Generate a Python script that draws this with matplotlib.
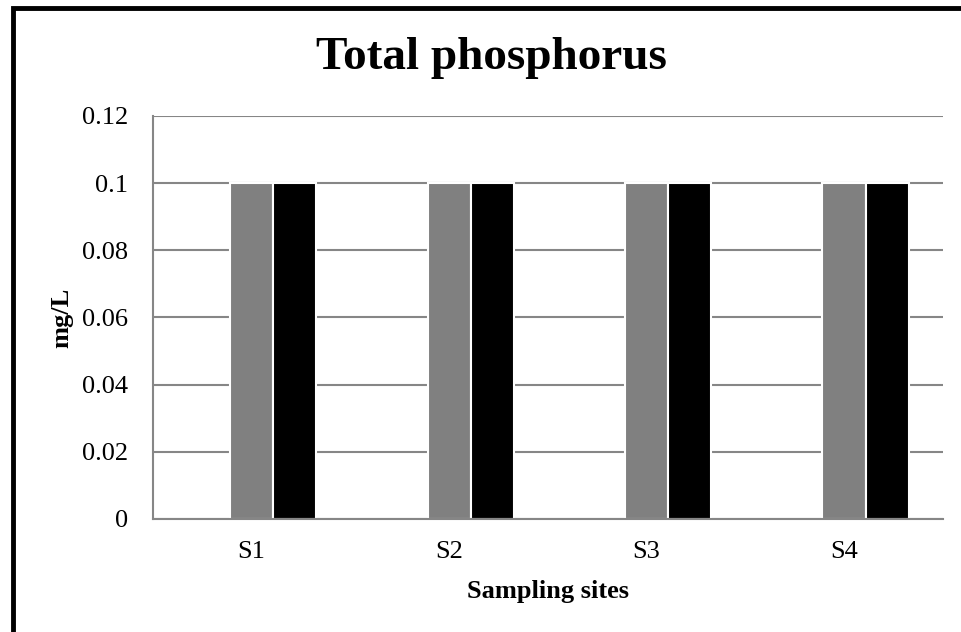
import numpy as np
import matplotlib
matplotlib.use("Agg")
from matplotlib import pyplot as plt
from matplotlib.patches import Rectangle

plt.rcParams['font.family'] = ['Liberation Serif', 'DejaVu Serif']

sites = ['S1', 'S2', 'S3', 'S4']
# three series per site; the first one has no measured value
series_1 = [0, 0, 0, 0]
series_2 = [0.1, 0.1, 0.1, 0.1]
series_3 = [0.1, 0.1, 0.1, 0.1]
yticks = [0, 0.02, 0.04, 0.06, 0.08, 0.1, 0.12]
ytick_labels = ['0', '0.02', '0.04', '0.06', '0.08', '0.1', '0.12']

fig = plt.figure(figsize=(9.61, 6.32), dpi=100)
ax = fig.add_axes([0.159, 0.179, 0.822, 0.6375])

x = np.arange(len(sites))
w = 0.218
grid_col = '#868686'
ax.bar(x - w, series_1, w, color='#d9d9d9', edgecolor='none', linewidth=0, zorder=3)
ax.bar(x, series_2, w, color='#808080', edgecolor='white', linewidth=1.5, zorder=3)
ax.bar(x + w, series_3, w, color='black', edgecolor='white', linewidth=1.5, zorder=3)

ax.set_xlim(-0.5, len(sites) - 0.5)
ax.set_ylim(0, 0.12)
ax.set_xticks(x)
ax.set_xticklabels(sites, fontsize=19)
ax.set_yticks(yticks)
ax.set_yticklabels(ytick_labels, fontsize=19)
ax.tick_params(axis='y', length=0, pad=18)
ax.tick_params(axis='x', length=0, pad=16)
ax.yaxis.grid(True, color=grid_col, linewidth=1.5, zorder=0)
ax.set_axisbelow(True)
for side in ['top', 'right']:
    ax.spines[side].set_visible(False)
for side in ['left', 'bottom']:
    ax.spines[side].set_color(grid_col)
    ax.spines[side].set_linewidth(1.5)
ax.spines['bottom'].set_zorder(4)

ax.set_xlabel('Sampling sites', fontsize=19, fontweight='bold', labelpad=12)
ax.set_ylabel('mg/L', fontsize=19, fontweight='bold', labelpad=6)
fig.text(491 / 961, 1 - 58 / 632, 'Total phosphorus', fontsize=34, fontweight='bold',
         ha='center', va='center')

# frame around the chart, running off the right and bottom edge
fig.patches.append(Rectangle((12.5 / 961, -0.1), 1.2, 1 - 7.5 / 632 + 0.1,
                             transform=fig.transFigure, fill=False,
                             edgecolor='black', linewidth=3.5))

fig.savefig('out.png', dpi=100)
